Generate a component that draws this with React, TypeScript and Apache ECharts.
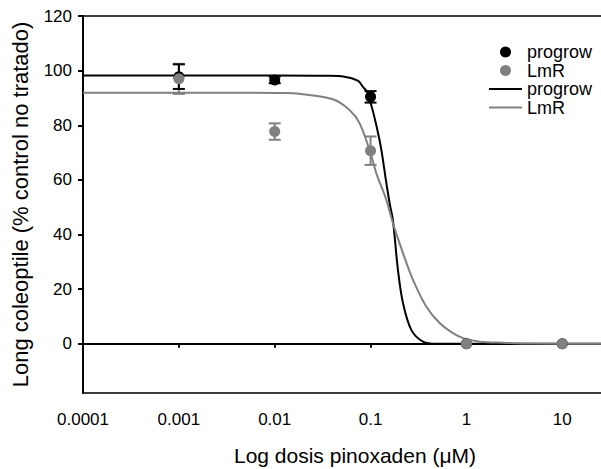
import { useEffect, useRef } from "react";
import * as echarts from "echarts";

// Measured doses (µM) and coleoptile length, % of untreated control
const doses = [0.001, 0.01, 0.1, 1, 10];
const progrowMean = [97.8, 96.6, 90.4, 0, 0];
const progrowErr = [4.5, 1.2, 2.1, 0, 0];
const lmrMean = [97.0, 77.7, 70.7, 0, 0];
const lmrErr = [5.5, 3.0, 5.2, 0, 0];

// Fitted dose-response curves, sampled along the plotted line
const progrowFit: [number, number][] = [
  [0.0001, 98.2], [0.01, 98.2], [0.035, 98.1], [0.0535, 97.8], [0.0736, 96.3],
  [0.0832, 94.1], [0.0937, 91.7], [0.124, 74.6], [0.148, 57.6], [0.1606, 50.2],
  [0.171, 45.4], [0.193, 27.1], [0.218, 14.9], [0.266, 5.1], [0.352, 0.8],
  [0.486, 0], [26.6, 0],
];
const lmrFit: [number, number][] = [
  [0.0001, 91.9], [0.005, 91.9], [0.012, 91.8], [0.0181, 91.5], [0.0404, 89.5],
  [0.0603, 85.6], [0.0767, 80.8], [0.1, 69.8], [0.1147, 62.5], [0.146, 52.7],
  [0.171, 44.2], [0.218, 33.2], [0.277, 23.4], [0.382, 13.6], [0.526, 7.6],
  [0.724, 3.9], [0.922, 2.1], [1.38, 0.8], [2.4, 0.4], [5, 0.1], [26.6, 0],
];

const xTickLabels = ["0.0001", "0.001", "0.01", "0.1", "1", "10"];
const yTicks = [0, 20, 40, 60, 80, 100, 120];

const FONT = "'Liberation Sans', Arial, sans-serif";
const BLACK = "#000000";
const GREY = "#808080";
const LINE_ICON = "path://M0,0h33v2h-33z";

function errorRows(means: number[], errs: number[]) {
  return doses.map((d, i) => [d, means[i] - errs[i], means[i] + errs[i], errs[i]]);
}

function errorBarSeries(name: string, rows: number[][], color: string) {
  return {
    type: "custom",
    name,
    data: rows,
    encode: { x: 0, y: [1, 2] },
    z: 3,
    renderItem: (_params: any, api: any) => {
      if (api.value(3) <= 0) return { type: "group", children: [] };
      const x = api.value(0);
      const lo = api.coord([x, api.value(1)]);
      const hi = api.coord([x, api.value(2)]);
      const half = 6;
      const style = { stroke: color, lineWidth: 2 };
      return {
        type: "group",
        children: [
          { type: "line", shape: { x1: lo[0], y1: lo[1], x2: hi[0], y2: hi[1] }, style },
          { type: "line", shape: { x1: lo[0] - half, y1: lo[1], x2: lo[0] + half, y2: lo[1] }, style },
          { type: "line", shape: { x1: hi[0] - half, y1: hi[1], x2: hi[0] + half, y2: hi[1] }, style },
        ],
      };
    },
  };
}

function xLabel(v: number): string {
  const l = Math.log10(v);
  const r = Math.round(l);
  if (Math.abs(l - r) > 1e-6) return "";
  return xTickLabels[r + 4] ?? "";
}

export default function App() {
  const ref = useRef<HTMLDivElement>(null);

  useEffect(() => {
    if (!ref.current) return;
    const chart = echarts.init(ref.current, null, { renderer: "svg" });
    chart.setOption({
      animation: false,
      backgroundColor: "#ffffff",
      textStyle: { fontFamily: FONT },
      grid: {
        left: 83,
        right: -2,
        top: 16,
        bottom: 76,
        containLabel: false,
        outerBoundsMode: "none",
        show: true,
        borderColor: BLACK,
        borderWidth: 1.5,
        backgroundColor: "transparent",
      },
      legend: {
        orient: "vertical",
        left: 484,
        top: 38,
        itemWidth: 33,
        itemHeight: 11,
        itemGap: 0.5,
        symbolKeepAspect: true,
        data: [
          { name: "progrow_pts", icon: "circle" },
          { name: "LmR_pts", icon: "circle" },
          { name: "progrow_fit", icon: LINE_ICON },
          { name: "LmR_fit", icon: LINE_ICON },
        ],
        formatter: (name: string) => name.split("_")[0],
        textStyle: { fontFamily: FONT, fontSize: 18, color: BLACK, lineHeight: 18 },
      },
      xAxis: {
        type: "log",
        logBase: 10,
        min: 0.0001,
        max: 26.6,
        name: "Log dosis pinoxaden (\u03bcM)",
        nameLocation: "middle",
        nameGap: 52,
        nameTextStyle: { fontFamily: FONT, fontSize: 21, color: BLACK, padding: [0, 0, 0, 24] },
        axisLine: { show: true, lineStyle: { color: BLACK, width: 2 } },
        axisTick: { show: true, inside: false, length: 4, lineStyle: { color: BLACK, width: 2 } },
        axisLabel: {
          formatter: xLabel,
          margin: 18,
          fontFamily: FONT,
          fontSize: 17,
          color: BLACK,
        },
        splitLine: { show: false },
        minorTick: { show: false },
      },
      yAxis: {
        type: "value",
        min: -18,
        max: 120,
        name: "Long coleoptile (% control no tratado)",
        nameLocation: "middle",
        nameGap: 52,
        nameTextStyle: { fontFamily: FONT, fontSize: 22, color: BLACK },
        axisLine: { show: true, lineStyle: { color: BLACK, width: 2 } },
        axisTick: {
          show: true,
          inside: false,
          length: 5,
          customValues: yTicks,
          lineStyle: { color: BLACK, width: 2 },
        },
        axisLabel: {
          customValues: yTicks,
          margin: 11,
          fontFamily: FONT,
          fontSize: 17,
          color: BLACK,
        },
        splitLine: { show: false },
      },
      series: [
        {
          type: "line",
          name: "progrow_fit",
          data: progrowFit,
          symbol: "none",
          smooth: 0.35,
          lineStyle: { color: BLACK, width: 2 },
          itemStyle: { color: BLACK },
          z: 2,
        },
        {
          type: "line",
          name: "LmR_fit",
          data: lmrFit,
          symbol: "none",
          smooth: 0.35,
          lineStyle: { color: GREY, width: 2 },
          itemStyle: { color: GREY },
          z: 2,
        },
        errorBarSeries("LmR_err", errorRows(lmrMean, lmrErr), GREY),
        errorBarSeries("progrow_err", errorRows(progrowMean, progrowErr), BLACK),
        {
          type: "scatter",
          name: "progrow_pts",
          data: doses.map((d, i) => [d, progrowMean[i]]),
          symbol: "circle",
          symbolSize: 11,
          itemStyle: { color: BLACK, opacity: 1 },
          z: 4,
        },
        {
          type: "scatter",
          name: "LmR_pts",
          data: doses.map((d, i) => [d, lmrMean[i]]),
          symbol: "circle",
          symbolSize: 11,
          itemStyle: { color: GREY, opacity: 1 },
          z: 5,
        },
      ],
    });
    return () => chart.dispose();
  }, []);

  return (
    <div
      ref={ref}
      style={{ position: "absolute", left: 0, top: 0, width: 601, height: 469 }}
    />
  );
}
